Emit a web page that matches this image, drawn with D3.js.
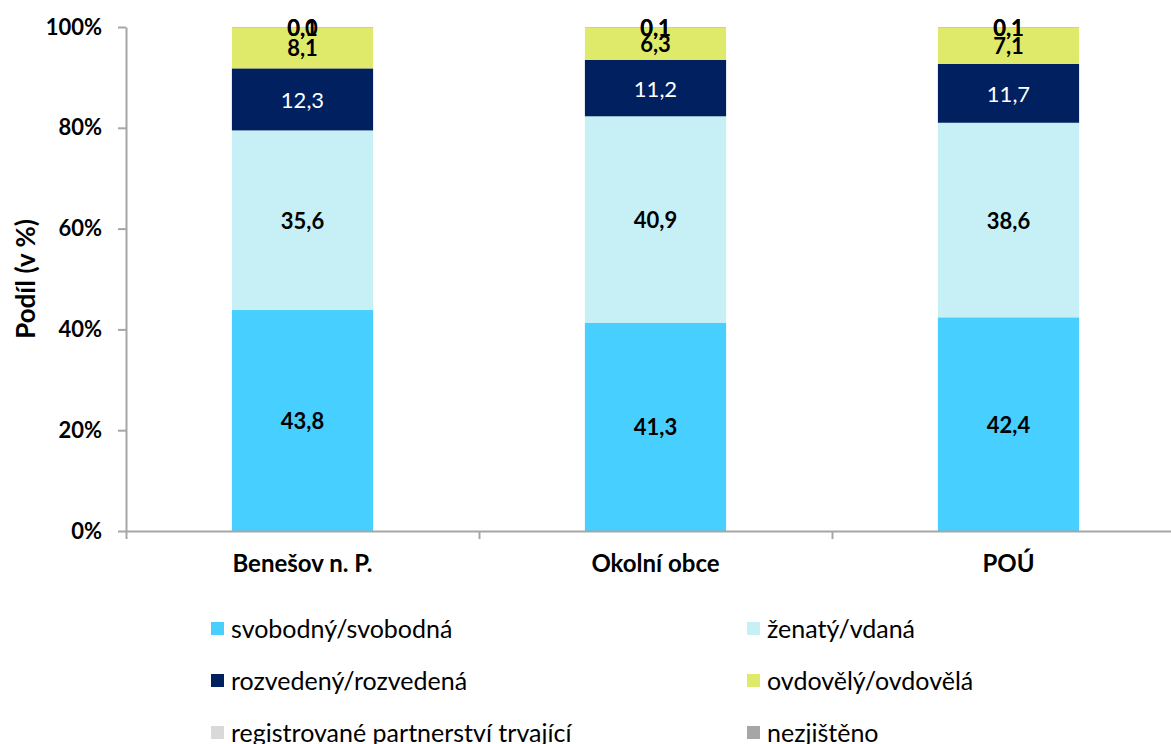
<!DOCTYPE html>
<html>
<head>
<meta charset="utf-8">
<script src="https://cdn.jsdelivr.net/npm/d3@7"></script>
<style>
  body { margin: 0; background: #fff; }
  svg { display: block; font-family: Lato, "Noto Sans", sans-serif; }
</style>
</head>
<body>
<svg class="chart" width="1171" height="744"></svg>
<script>
// categories and series (percent shares)
var categories = ['Benešov n. P.', 'Okolní obce', 'POÚ'];
var seriesNames = ['svobodný/svobodná', 'ženatý/vdaná', 'rozvedený/rozvedená', 'ovdovělý/ovdovělá',
  'registrované partnerství trvající', 'nezjištěno'];
var svobodny = [43.8, 41.3, 42.4];
var zenaty = [35.6, 40.9, 38.6];
var rozvedeny = [12.3, 11.2, 11.7];
var ovdovely = [8.1, 6.3, 7.1];
var registrovane = [0.0, 0.1, 0.1];
var nezjisteno = [0.1, 0.1, 0.1];
var yTicks = [0, 0.2, 0.4, 0.6, 0.8, 1];

var colors = ['#47CFFF', '#C6F0F5', '#00205F', '#E0EA6A', '#D9D9D9', '#A6A6A6'];
var labelColors = ['#000', '#000', '#fff', '#000', '#000', '#000'];
var labelWeights = ['bold', 'bold', 'normal', 'bold', 'bold', 'bold'];

var allSeries = [svobodny, zenaty, rozvedeny, ovdovely, registrovane, nezjisteno];

// one row per category for d3.stack
var table = categories.map(function(c, i) {
  var row = {name: c};
  seriesNames.forEach(function(s, j) { row[s] = allSeries[j][i]; });
  return row;
});

var margin = {top: 27, left: 126},
  plotWidth = 1059,
  plotHeight = 504;

var svg = d3.select('.chart');
var chart = svg.append('g')
  .attr('transform', 'translate(' + margin.left + ',' + margin.top + ')');

var stack = d3.stack().keys(seriesNames).offset(d3.stackOffsetExpand);
var layers = stack(table);

var x = d3.scaleBand()
  .domain(categories)
  .range([0, plotWidth])
  .paddingInner(0.6)
  .paddingOuter(0.3);

var y = d3.scaleLinear()
  .domain([0, 1])
  .range([plotHeight, 0]);

// bars
var layer = chart.selectAll('.layer')
  .data(layers)
  .enter()
  .append('g')
  .attr('class', 'layer')
  .attr('fill', function(d, i) { return colors[i]; });

layer.selectAll('rect')
  .data(function(d) { return d; })
  .enter()
  .append('rect')
  .attr('x', function(d) { return x(d.data.name); })
  .attr('y', function(d) { return y(d[1]); })
  .attr('height', function(d) { return y(d[0]) - y(d[1]); })
  .attr('width', x.bandwidth());

// value labels
layers.forEach(function(l, i) {
  chart.append('g')
    .selectAll('text')
    .data(l)
    .enter()
    .append('text')
    .attr('x', function(d) { return x(d.data.name) + x.bandwidth() / 2; })
    .attr('y', function(d) { return (y(d[0]) + y(d[1])) / 2; })
    .attr('text-anchor', 'middle')
    .attr('dominant-baseline', 'central')
    .attr('fill', labelColors[i])
    .attr('font-weight', labelWeights[i])
    .attr('font-size', 22)
    .text(function(d) { return d.data[l.key].toFixed(1).replace('.', ','); });
});

// y axis
var yAxis = d3.axisLeft(y)
  .tickValues(yTicks)
  .tickSizeInner(8)
  .tickSizeOuter(0)
  .tickPadding(16)
  .tickFormat(d3.format('.0%'));

chart.append('g').attr('class', 'y axis').call(yAxis)
  .selectAll('.tick text').attr('font-size', 22);

// x axis: tick marks on category boundaries, labels under the bars
var xb = d3.scaleLinear().domain([0, categories.length]).range([0, plotWidth]);
chart.append('g')
  .attr('class', 'x axis')
  .attr('transform', 'translate(0,' + plotHeight + ')')
  .call(d3.axisBottom(xb).tickValues(d3.range(categories.length)).tickSizeInner(8).tickSizeOuter(0).tickFormat(''));

chart.append('g')
  .attr('class', 'x labels')
  .attr('transform', 'translate(0,' + plotHeight + ')')
  .call(d3.axisBottom(x).tickSize(0).tickPadding(24))
  .call(function(g) { g.select('.domain').remove(); })
  .selectAll('.tick text').attr('font-size', 24);

svg.selectAll('.axis path, .axis line').attr('stroke', '#A6A6A6').attr('stroke-width', 2);
svg.selectAll('.tick text')
  .attr('font-family', 'Lato, "Noto Sans", sans-serif')
  .attr('font-weight', 'bold')
  .attr('fill', '#000');

// y title
svg.append('text')
  .attr('transform', 'translate(25,' + (margin.top + y(0.5)) + ') rotate(-90)')
  .attr('text-anchor', 'middle')
  .attr('dominant-baseline', 'central')
  .attr('font-size', 26)
  .attr('font-weight', 'bold')
  .text('Podíl (v %)');

// legend, two columns
var legend = svg.append('g')
  .selectAll('g')
  .data(seriesNames)
  .enter()
  .append('g')
  .attr('transform', function(d, i) {
    return 'translate(' + (i % 2 === 0 ? 211 : 747) + ',' + (628 + Math.floor(i / 2) * 52) + ')';
  });

legend.append('rect')
  .attr('y', -6)
  .attr('width', 13)
  .attr('height', 13)
  .attr('fill', function(d, i) { return colors[i]; });

legend.append('text')
  .attr('x', 20)
  .attr('dominant-baseline', 'central')
  .attr('font-size', 25)
  .text(function(d) { return d; });
</script>
</body>
</html>
